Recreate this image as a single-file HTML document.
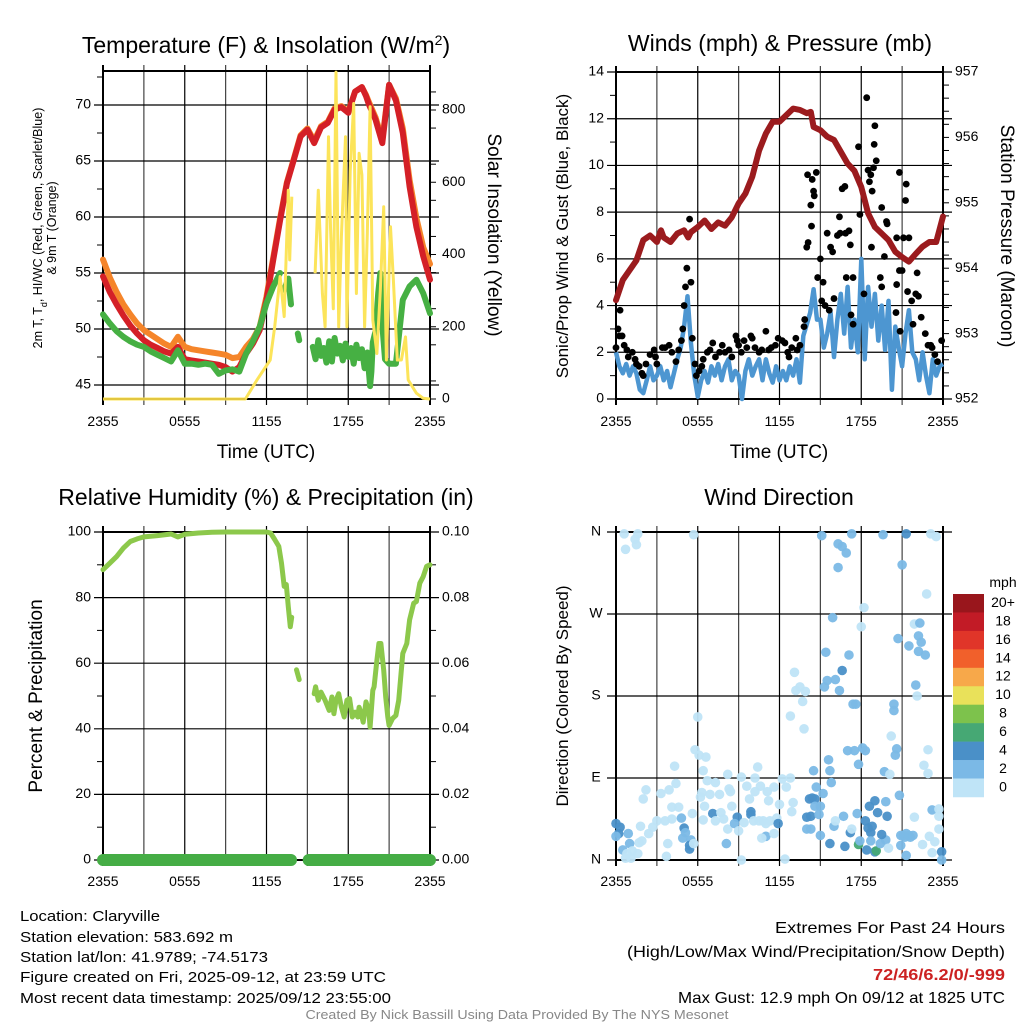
<!DOCTYPE html>
<html><head><meta charset="utf-8"><style>
html,body{margin:0;padding:0;background:#fff;}
svg{display:block;font-family:"Liberation Sans",sans-serif;}
</style></head><body>
<svg id="fig" width="1024" height="1024" viewBox="0 0 1024 1024" xmlns="http://www.w3.org/2000/svg">
<rect width="1024" height="1024" fill="#fff"/>
<g id="p1"></g>
<g id="p2"></g>
<g id="p3"></g>
<g id="p4"></g>

<text x="266" y="53" font-size="23" text-anchor="middle">Temperature (F) &amp; Insolation (W/m<tspan baseline-shift="super" font-size="14">2</tspan>)</text>
<text x="780" y="45" font-size="23" text-anchor="middle" dominant-baseline="middle">Winds (mph) &amp; Pressure (mb)</text>
<text x="266" y="505" font-size="23" text-anchor="middle">Relative Humidity (%) &amp; Precipitation (in)</text>
<text x="779" y="505" font-size="23" text-anchor="middle">Wind Direction</text>

<text transform="translate(42,228) rotate(-90)" font-size="12.5" text-anchor="middle">2m T, T<tspan baseline-shift="sub" font-size="9">d</tspan>, HI/WC (Red, Green, Scarlet/Blue)</text>
<text transform="translate(56,228) rotate(-90)" font-size="12.5" text-anchor="middle">&amp; 9m T (Orange)</text>
<text transform="translate(488,235) rotate(90)" font-size="19" text-anchor="middle">Solar Insolation (Yellow)</text>
<text x="266" y="458" font-size="19" text-anchor="middle">Time (UTC)</text>
<text transform="translate(568,236) rotate(-90)" font-size="17" text-anchor="middle">Sonic/Prop Wind &amp; Gust (Blue, Black)</text>
<text transform="translate(1001,236) rotate(90)" font-size="19" text-anchor="middle">Station Pressure (Maroon)</text>
<text x="779" y="458" font-size="19" text-anchor="middle">Time (UTC)</text>
<text transform="translate(42,696) rotate(-90)" font-size="19" text-anchor="middle">Percent &amp; Precipitation</text>
<text transform="translate(568,696) rotate(-90)" font-size="17" text-anchor="middle">Direction (Colored By Speed)</text>

<g font-size="15">
<text x="20" y="921" textLength="140" lengthAdjust="spacingAndGlyphs">Location: Claryville</text>
<text x="20" y="942" textLength="213" lengthAdjust="spacingAndGlyphs">Station elevation: 583.692 m</text>
<text x="20" y="962" textLength="248" lengthAdjust="spacingAndGlyphs">Station lat/lon: 41.9789; -74.5173</text>
<text x="20" y="982" textLength="366" lengthAdjust="spacingAndGlyphs">Figure created on Fri, 2025-09-12, at 23:59 UTC</text>
<text x="20" y="1003" textLength="371" lengthAdjust="spacingAndGlyphs">Most recent data timestamp: 2025/09/12 23:55:00</text>
</g>
<g font-size="16" text-anchor="end">
<text x="1005" y="933" textLength="230" lengthAdjust="spacingAndGlyphs">Extremes For Past 24 Hours</text>
<text x="1005" y="957" textLength="378" lengthAdjust="spacingAndGlyphs">(High/Low/Max Wind/Precipitation/Snow Depth)</text>
<text x="1005" y="980" textLength="132" lengthAdjust="spacingAndGlyphs" fill="#cc2222" font-weight="bold">72/46/6.2/0/-999</text>
<text x="1005" y="1003" textLength="327" lengthAdjust="spacingAndGlyphs">Max Gust: 12.9 mph On 09/12 at 1825 UTC</text>
</g>
<text x="517" y="1019" font-size="12.5" fill="#888" text-anchor="middle" textLength="423" lengthAdjust="spacingAndGlyphs">Created By Nick Bassill Using Data Provided By The NYS Mesonet</text>
</svg>
<script>
// ---------- data ----------
const xTickLabels = ["2355","0555","1155","1755","2355"];
const tempTicks = [45,50,55,60,65,70];
const insoTicks = [0,200,400,600,800];
const windTicks = [0,2,4,6,8,10,12,14];
const presTicks = [952,953,954,955,956,957];
const rhTicks = [0,20,40,60,80,100];
const precipTicks = ["0.00","0.02","0.04","0.06","0.08","0.10"];
const dirLabels = ["N","E","S","W","N"];
const speedBins = ["0","2","4","6","8","10","12","14","16","18","20+"];
const speedColors = ["#bfe4f7","#7bb9e6","#4a90c8","#46a874","#7dc24c","#e9e15a","#f7a84a","#f1602b","#e03529","#c21b26","#99161c"];

const tempTimes = [0,0.5,1,1.5,2,2.5,3,3.5,4,4.5,5,5.5,6,6.5,7,7.5,8,8.5,9,9.5,10,10.5,11,11.5,12,12.5,13,13.5,14,14.5,15,15.5,16,16.5,17,17.5,18,18.5,19,19.3,19.5,20,20.5,21,21.5,22,22.5,23,23.5,24];
const redT = [54.7,53.3,52.2,51.2,50.3,49.6,49.0,48.6,48.3,48.0,47.8,48.4,47.3,47.2,47.1,47.0,46.9,46.8,46.6,46.2,46.6,47.8,48.7,49.9,52.6,56.2,59.7,63.0,65.1,67.2,67.8,66.6,68.0,68.4,69.6,69.8,69.3,71.2,71.6,70.8,70.1,68.7,66.6,71.8,70.4,67.5,62.7,59.1,56.5,54.4];
const orangeT = [56.2,54.6,53.3,52.2,51.3,50.5,49.9,49.5,49.1,48.7,48.4,49.3,48.4,48.2,48.1,48.0,47.9,47.8,47.7,47.4,47.5,48.4,49.1,50.2,52.9,56.4,59.9,63.1,65.2,67.3,67.9,66.8,68.1,68.5,69.7,69.9,69.4,71.2,71.6,70.9,70.3,68.9,66.9,71.8,70.6,67.9,63.3,59.9,57.3,55.8];
const dewTimes = [0,0.5,1,1.5,2,2.5,3,3.5,4,4.5,5,5.5,6,6.5,7,7.5,8,8.5,9,9.5,10,10.5,11,11.5,12,12.5,13,13.1,13.3,13.6,13.8,13.9,14.3,14.4,14.5,15.4,15.6,15.8,16,16.2,16.4,16.6,16.8,17,17.2,17.4,17.6,17.8,18,18.2,18.4,18.6,18.8,19,19.2,19.4,19.6,19.7,19.8,20,20.2,20.35,20.5,20.7,21,21.5,22,22.5,23,23.5,24];
const dewT = [51.3,50.5,49.8,49.3,48.9,48.6,48.4,48.0,47.7,47.4,47.1,48.1,46.9,46.9,46.8,46.9,46.8,46.0,46.3,46.4,46.2,47.8,48.9,50.2,52.3,53.8,55.0,NaN,53.5,54.5,52.2,NaN,49.6,49.0,NaN,48.4,47.3,49.0,47.6,48.3,47.0,48.9,47.1,49.2,47.8,48.5,47.2,48.7,47.5,48.3,46.9,48.6,47.4,48.2,46.5,47.9,44.9,46.2,48.8,49.8,53.2,55.0,50.4,47.3,46.9,46.9,52.6,53.8,54.4,53.2,51.4];
const insoTimes = [0,10.45,11.3,12.27,12.6,13.0,13.3,13.6,13.7,13.86,13.9,15.57,15.8,16.1,16.3,16.55,16.7,16.9,17.1,17.3,17.5,17.8,17.9,18.14,18.4,18.6,18.8,19.0,19.2,19.4,19.6,19.8,20.1,20.35,20.6,20.8,21.1,21.3,21.6,21.9,22.2,22.4,23.0,23.5,24];
const insolation = [0,0,53,108,200,339,228,578,385,560,NaN,348,578,292,200,726,477,250,905,200,450,726,200,630,818,292,680,620,200,458,809,219,126,300,532,108,477,339,108,108,172,53,16,2,0];

const presTimes = [0,0.5,1,1.5,2,2.5,3,3.3,3.5,4,4.5,5,5.3,5.5,6,6.5,7,7.5,8,8.5,9,9.5,10,10.5,11,11.5,12,12.5,13,13.5,14,14.3,14.5,15,15.5,16,16.5,17,17.5,18,18.5,19,19.5,20,20.5,21,21.5,22,22.5,23,23.5,24];
const pressure = [953.51,953.82,953.97,954.12,954.43,954.5,954.4,954.58,954.47,954.4,954.53,954.58,954.47,954.55,954.63,954.73,954.6,954.7,954.65,954.78,954.99,955.14,955.4,955.8,956.06,956.24,956.24,956.34,956.44,956.42,956.37,956.39,956.16,956.11,956.01,955.96,955.78,955.6,955.49,955.24,954.84,954.63,954.53,954.43,954.25,954.17,954.1,954.22,954.33,954.4,954.4,954.79];
const windTimes = [0,0.25,0.5,0.75,1,1.25,1.5,1.75,2,2.25,2.5,2.75,3,3.25,3.5,3.75,4,4.25,4.5,4.75,5,5.25,5.5,5.75,6,6.25,6.5,6.75,7,7.25,7.5,7.75,8,8.25,8.5,8.75,9,9.25,9.5,9.75,10,10.25,10.5,10.75,11,11.25,11.5,11.75,12,12.25,12.5,12.75,13,13.25,13.5,13.75,14,14.25,14.5,14.75,15,15.25,15.5,15.75,16,16.25,16.5,16.75,17,17.25,17.5,17.75,18,18.25,18.5,18.75,19,19.25,19.5,19.75,20,20.25,20.5,20.75,21,21.25,21.5,21.75,22,22.25,22.5,22.75,23,23.25,23.5,23.75,24];
const windSpeed = [2.0,1.4,1.1,1.5,1.0,1.4,1.1,0.4,0.25,0.8,1.4,0.8,1.0,1.4,0.8,1.2,0.5,1.1,1.7,2.2,3.1,4.4,2.4,1.0,0.1,0.8,1.2,0.7,1.4,1.0,1.5,0.8,1.4,1.7,0.8,1.2,1.0,0,1.2,1.7,1.0,1.4,1.7,0.8,1.7,1.1,0.7,1.4,0.8,1.2,0.8,1.4,1.0,1.7,0.7,2.7,3.2,3.7,4.7,3.4,3.4,2.2,2.8,3.7,1.8,3.4,4.5,2.8,4.8,2.2,3.4,2.0,6.0,1.7,4.8,3.1,4.5,2.5,4.0,2.1,4.2,0.4,3.1,2.2,1.4,2.8,3.8,2.0,1.7,0.8,2.0,1.0,0.25,1.7,1.0,1.4,1.5];
const gustTimes = [0,0.15,0.25,0.3,0.45,0.6,0.8,0.9,1.2,1.4,1.5,1.7,1.9,2.0,2.2,2.5,2.8,2.9,3.0,3.4,3.6,3.9,4.1,4.4,4.6,4.8,4.9,5.0,5.1,5.2,5.4,5.5,5.6,5.8,5.9,6.1,6.3,6.4,6.7,6.9,7.1,7.3,7.6,7.8,8.0,8.3,8.5,8.8,8.9,9.0,9.2,9.4,9.6,9.9,10.0,10.2,10.5,10.7,11.0,11.2,11.4,11.7,11.9,12.2,12.4,12.6,12.7,12.9,13.2,13.3,13.5,13.8,13.85,14.0,14.06,14.4,14.7,14.5,14.55,14.3,14.1,14.35,14.8,15.0,15.2,15.1,15.35,15.5,15.75,15.9,15.65,16.0,16.4,16.45,16.6,16.8,16.25,16.85,17.1,17.2,16.9,17.4,17.25,17.4,17.8,17.9,18.2,18.4,18.5,18.6,18.7,18.8,18.9,19.0,18.95,19.1,19.5,19.85,19.9,18.75,19.7,19.4,19.5,20.6,20.8,21.25,21.3,21.1,21.5,20.8,21.0,20.6,21.4,21.7,22.0,22.1,22.2,20.55,20.85,21.8,22.4,22.7,22.9,23.1,23.2,23.4,23.6,23.9];
const gustSpeed = [2.2,3.0,2.7,3.8,2.7,2.3,2.1,1.8,2.0,1.7,1.5,1.4,1.1,1.0,1.5,1.9,2.1,1.8,1.5,2.2,2.2,2.3,2.0,1.6,2.1,2.5,3.0,4.0,4.8,5.6,7.7,5.0,2.6,1.5,1.0,1.2,1.4,1.7,2.0,2.1,2.4,1.8,2.0,2.3,2.0,2.1,1.8,2.7,2.5,2.3,2.0,2.5,2.2,2.7,2.6,2.2,2.0,2.1,2.9,2.1,2.2,2.3,2.6,2.5,2.4,2.0,1.8,2.2,2.6,2.1,2.3,3.1,3.4,6.5,9.6,9.4,9.7,8.9,8.7,8.3,6.7,7.4,5.2,6.0,5.0,4.2,4.0,7.1,6.5,6.3,3.8,4.3,7.8,7.1,9.0,9.1,7.0,7.1,7.2,6.6,5.2,5.2,3.6,3.2,10.8,7.9,4.5,12.9,9.8,9.3,9.6,8.9,9.9,11.7,10.9,10.2,8.2,7.6,7.5,6.5,6.1,5.2,4.8,6.9,9.7,8.5,9.2,6.9,6.9,5.5,5.5,4.9,4.6,4.2,4.5,5.4,4.4,3.7,2.9,3.2,3.5,2.8,2.3,2.3,2.2,1.9,1.6,2.5];

const rhTimes = [0,0.5,1,1.5,2,2.5,3,4,5,5.5,6,7,8,9,10,11,12,12.3,12.6,12.9,13.1,13.3,13.45,13.6,13.75,13.85,13.9,14.2,14.4,14.5,15.5,15.6,15.8,16,16.3,16.6,16.8,16.95,17.1,17.3,17.5,17.7,17.9,18.1,18.3,18.5,18.7,18.8,18.95,19.1,19.3,19.5,19.6,19.8,19.9,20.1,20.25,20.4,20.6,20.75,20.9,21,21.25,21.5,21.7,22,22.3,22.5,22.8,23,23.25,23.5,23.75,24];
const rh = [88.5,90.5,92.5,95.1,97.1,97.9,98.5,98.9,99.4,98.5,99.3,99.7,99.9,100,100,100,100,99.7,97.7,95.6,90.5,83.4,84,77.2,71.1,74,NaN,58,55,NaN,50.7,52.8,48.7,51.2,48.7,45.6,49.7,44.6,48.7,50.7,46.6,43.6,48.7,49.2,43.6,45.1,43.6,46.6,44.6,42,48.2,45.6,40.5,51.7,52.8,60.9,66,66,57.9,49.7,43.6,41,43.1,44.1,48.7,63,66,73.2,78.3,78.8,84.4,86.4,89.5,90];
const precipTimes = [0,13.8,NaN,15.1,24];
const precipIn = [0,0,NaN,0,0];

const dirTimes = [0.6,0.7,1.4,1.5,1.6,5.7,15.1,16.3,16.6,16.9,16.3,17.3,19.6,21.3,21.0,23.1,23.5,22.8,18.2,15.9,18.0,21.9,22.3,22.2,22.4,20.7,21.5,22.2,22.7,15.4,17.1,16.6,16.1,15.5,15.3,16.4,22.0,22.1,13.1,13.5,13.2,13.9,13.7,17.4,17.6,20.4,20.4,12.8,6.0,13.8,20.2,20.6,20.5,22.9,17.0,17.5,18.1,18.3,15.6,17.8,22.6,5.8,6.1,6.6,4.3,6.4,10.4,14.5,15.7,19.7,20.1,22.9,8.2,9.2,10.2,12.2,12.8,15.8,4.4,6.7,7.3,2.2,2.0,3.3,3.9,6.3,7.6,8.3,9.6,10.6,11.6,11.1,12.5,14.7,15.2,20.8,6.2,6.9,8.4,9.8,10.2,11.2,12.0,13.0,14.2,14.4,14.6,14.6,15.0,18.6,19.0,19.8,19.2,19.9,23.2,23.7,4.1,4.6,6.5,7.1,7.7,8.5,8.9,9.9,9.9,10.8,11.3,11.8,12.9,14.0,14.3,14.9,16.7,17.7,21.9,23.7,0.0,0.3,0.2,0.0,0.9,0.5,1.0,1.7,1.9,1.8,2.4,2.7,3.0,3.6,3.8,4.1,4.8,5.0,5.1,4.9,5.5,5.4,5.4,5.7,5.6,6.4,7.3,7.9,8.2,8.7,9.4,9.0,10.1,10.5,11.0,11.9,11.0,10.7,11.6,8.1,14.0,14.3,15.0,15.7,16.0,16.1,17.2,17.3,16.8,17.8,17.9,18.3,18.5,18.7,18.8,18.7,18.4,19.0,19.1,19.4,19.8,20.0,19.5,20.9,21.1,21.2,21.3,21.5,21.6,21.8,20.9,21.3,22.5,23.0,23.4,23.2,23.9,23.9,23.7,0.7,1.1,1.6,1.2,3.7,9.2,12.4,0.8];
const dirDeg = [358,341,352,346,358,357,356,347,344,337,321,358,357,358,324,358,355,292,277,266,256,259,260,246,239,243,235,229,225,228,225,208,198,197,190,186,192,180,206,190,186,185,174,171,171,171,164,158,157,144,136,122,115,121,120,120,123,120,110,105,104,121,115,113,103,98,102,98,98,97,94,95,94,91,90,89,90,85,84,87,85,77,67,73,77,74,72,78,81,81,80,75,80,80,73,71,69,72,75,67,75,65,61,63,67,68,67,59,59,59,65,64,52,48,55,56,58,58,59,51,52,59,47,53,50,43,43,46,53,47,48,50,48,51,47,48,40,36,29,26,29,11,18,19,21,37,29,36,43,43,18,45,46,35,30,24,22,16,12,18,51,44,43,45,34,40,41,32,43,43,40,40,26,24,29,18,34,34,27,18,37,43,30,34,15,17,21,43,35,30,37,21,11,9,10,18,22,13,28,27,27,25,29,27,25,27,16,5,17,26,20,8,9,0,34,2,2,7,10,4,0,1,7];
const dirSpeed = [1,1,1,1,1,1,3,3,3,3,3,3,3,5,3,1,1,1,1,3,1,1,3,3,3,3,3,3,3,3,3,5,3,3,3,3,3,1,1,1,1,1,1,3,3,3,3,1,1,1,1,3,3,1,3,3,3,3,3,3,1,1,1,1,1,1,1,3,3,3,1,1,1,1,1,1,1,3,1,1,1,1,1,1,1,1,1,1,1,1,1,1,1,3,3,3,1,1,1,1,1,1,1,1,5,5,5,3,3,5,5,3,5,5,3,1,1,1,1,5,1,1,5,5,5,1,1,1,1,5,5,3,3,3,1,1,5,5,5,3,3,3,3,1,1,1,1,1,1,1,1,1,3,5,3,3,3,5,5,1,1,1,1,1,1,3,1,1,1,1,1,5,3,1,1,3,3,3,3,5,3,1,5,1,5,7,3,5,5,5,5,3,5,5,7,3,3,1,5,3,3,3,3,3,3,3,3,3,1,1,1,1,5,3,1,1,1,1,1,1,1,1,1];

// ---------- helpers ----------
const NS = "http://www.w3.org/2000/svg";
function mk(parent, tag, attrs){const e=document.createElementNS(NS,tag);for(const k in attrs)e.setAttribute(k,attrs[k]);parent.appendChild(e);return e;}
function lin(d0,d1,r0,r1){return v=>r0+(v-d0)/(d1-d0)*(r1-r0);}
function pathD(ts,vs,sx,sy){let d="",pen=false;for(let i=0;i<ts.length;i++){const t=ts[i],v=vs[i];if(isNaN(t)||isNaN(v)){pen=false;continue;}d+=(pen?"L":"M")+sx(t).toFixed(1)+","+sy(v).toFixed(1);pen=true;}return d;}

function frame(g,L,R,T,B){
  const sx=lin(0,24,L,R);
  for(let h=0;h<=24;h+=3){const x=sx(h);
    const gl=mk(g,"line",{x1:x,y1:T-6,x2:x,y2:B+6,stroke:(h%6==0?"#000":"#444"),"stroke-width":(h==0||h==24)?2:1.2});
    
    
  }
  return sx;
}
function hgrid(g,L,R,ys){ys.forEach(y=>{const l=mk(g,"line",{x1:L-9,y1:y,x2:R+9,y2:y,stroke:"#000","stroke-width":1.2});
  
  });}
function minorTicks(g,x,dir,ys){ys.forEach(y=>{const l=mk(g,"line",{x1:x,y1:y,x2:x+dir*6,y2:y,stroke:"#000","stroke-width":1});
  
  });}
function xLabels(g,sx,y){xTickLabels.forEach((s,i)=>{const t=mk(g,"text",{x:sx(i*6),y:y,"font-size":14,"text-anchor":"middle"});t.textContent=s;
  
  });}
function label(g,x,y,s,anchor,size){const t=mk(g,"text",{x:x,y:y,"font-size":size||14,"text-anchor":anchor,"dominant-baseline":"middle"});t.textContent=s;
  
  return t;}

// ---------- panel 1 ----------
(function(){
  const g=document.getElementById('p1');const L=103,R=430,T=71,B=399;
  const sx=frame(g,L,R,T,B);
  const sy=lin(45,70,385,105);const sI=lin(0,800,399,110);
  hgrid(g,L,R,tempTicks.map(sy));
  tempTicks.forEach(v=>label(g,L-12,sy(v),String(v),"end"));
  insoTicks.forEach(v=>label(g,R+12,sI(v),String(v),"start"));
  const mn=[];for(let v=47.5;v<73;v+=5)mn.push(sy(v));minorTicks(g,L,-1,mn);
  const mi=[];for(let v=50;v<900;v+=100)mi.push(sI(v));minorTicks(g,R,1,mi);minorTicks(g,R,1,insoTicks.map(sI));
  mk(g,"rect",{x:L,y:T,width:R-L,height:B-T,fill:"none",stroke:"#000","stroke-width":2});
  const o=mk(g,"path",{d:pathD(tempTimes,orangeT,sx,sy),fill:"none",stroke:"#f5852a","stroke-width":6,"stroke-linejoin":"round","stroke-linecap":"round"});
  
  const r=mk(g,"path",{d:pathD(tempTimes,redT,sx,sy),fill:"none",stroke:"#d42027","stroke-width":6,"stroke-linejoin":"round","stroke-linecap":"round"});
  
  const gr=mk(g,"path",{d:pathD(dewTimes,dewT,sx,sy),fill:"none",stroke:"#46b043","stroke-width":6,"stroke-linejoin":"round","stroke-linecap":"round"});
  
  const y=mk(g,"path",{d:pathD(insoTimes,insolation,sx,v=>Math.max(T,sI(v))),fill:"none",stroke:"#fce45a","stroke-width":3,"stroke-linejoin":"round"});
  
  const yb=mk(g,"line",{x1:L,y1:sI(0),x2:sx(10.45),y2:sI(0),stroke:"#e2c640","stroke-width":2});
  
  xLabels(g,sx,426);
})();

// ---------- panel 2 ----------
(function(){
  const g=document.getElementById('p2');const L=616,R=943,T=72,B=399;
  const sx=frame(g,L,R,T,B);
  const sy=lin(0,14,399,72);const sp=lin(952,957,399,72);
  hgrid(g,L,R,windTicks.map(sy));
  windTicks.forEach(v=>label(g,L-12,sy(v),String(v),"end"));
  presTicks.forEach(v=>label(g,R+12,sp(v),String(v),"start"));
  const mn=[];for(let v=1;v<14;v+=2)mn.push(sy(v));minorTicks(g,L,-1,mn);
  const mp=[];for(let v=952;v<=957.001;v+=0.2)mp.push(sp(v));minorTicks(g,R,1,mp);
  mk(g,"rect",{x:L,y:T,width:R-L,height:B-T,fill:"none",stroke:"#000","stroke-width":2});
  const b=mk(g,"path",{d:pathD(windTimes,windSpeed,sx,sy),fill:"none",stroke:"#4d96d1","stroke-width":4.5,"stroke-linejoin":"round"});
  
  gustTimes.forEach((t,i)=>{const c=mk(g,"circle",{cx:sx(t),cy:sy(gustSpeed[i]),r:3.4,fill:"#000"});
    
    });
  const p=mk(g,"path",{d:pathD(presTimes,pressure,sx,sp),fill:"none",stroke:"#9b1b1e","stroke-width":6,"stroke-linejoin":"round","stroke-linecap":"round"});
  
  xLabels(g,sx,426);
})();

// ---------- panel 3 ----------
(function(){
  const g=document.getElementById('p3');const L=103,R=430,T=532,B=860;
  const sx=frame(g,L,R,T,B);
  const sy=lin(0,100,860,532);const sP=lin(0,0.10,860,532);
  hgrid(g,L,R,rhTicks.map(sy));
  rhTicks.forEach(v=>label(g,L-12,sy(v),String(v),"end"));
  precipTicks.forEach(s=>label(g,R+12,sP(parseFloat(s)),s,"start"));
  const mn=[];for(let v=10;v<100;v+=20)mn.push(sy(v));minorTicks(g,L,-1,mn);
  const mp=[];for(let v=0.01;v<0.1;v+=0.02)mp.push(sP(v));minorTicks(g,R,1,mp);
  mk(g,"rect",{x:L,y:T,width:R-L,height:B-T,fill:"none",stroke:"#000","stroke-width":2});
  const r=mk(g,"path",{d:pathD(rhTimes,rh,sx,sy),fill:"none",stroke:"#8cc84b","stroke-width":5,"stroke-linejoin":"round","stroke-linecap":"round"});
  
  const pr=mk(g,"path",{d:pathD(precipTimes,precipIn,sx,sP),fill:"none",stroke:"#45ad45","stroke-width":12,"stroke-linecap":"round"});
  
  xLabels(g,sx,886);
})();

// ---------- panel 4 ----------
(function(){
  const g=document.getElementById('p4');const L=616,R=943,T=532,B=860;
  const sx=frame(g,L,R,T,B);
  const sy=lin(0,360,860,532);
  hgrid(g,L,R,[0,90,180,270,360].map(sy));
  dirLabels.forEach((s,i)=>label(g,L-20,sy(i*90),s,"middle"));
  mk(g,"rect",{x:L,y:T,width:R-L,height:B-T,fill:"none",stroke:"#000","stroke-width":2});
  dirTimes.forEach((t,i)=>{const bin=Math.min(10,Math.floor(dirSpeed[i]/2));
    const c=mk(g,"circle",{cx:sx(t),cy:sy(dirDeg[i]),r:4.8,fill:speedColors[bin],"fill-opacity":0.95});
    
    });
  xLabels(g,sx,886);
  // colorbar
  const cb=mk(g,"g",{});
  
  
  const t0=mk(cb,"text",{x:1003,y:587,"font-size":14,"text-anchor":"middle"});t0.textContent="mph";
  
  
  const n=speedBins.length, bh=18.45;
  for(let k=0;k<n;k++){const idx=n-1-k;const y=594+k*bh;
    const rc=mk(cb,"rect",{x:953,y:y,width:31,height:bh+0.3,fill:speedColors[idx]});
    
    
    const tx=mk(cb,"text",{x:1003,y:y+bh/2,"font-size":14,"text-anchor":"middle","dominant-baseline":"middle"});tx.textContent=speedBins[idx];
    
    
  }
})();
</script>
</body></html>
